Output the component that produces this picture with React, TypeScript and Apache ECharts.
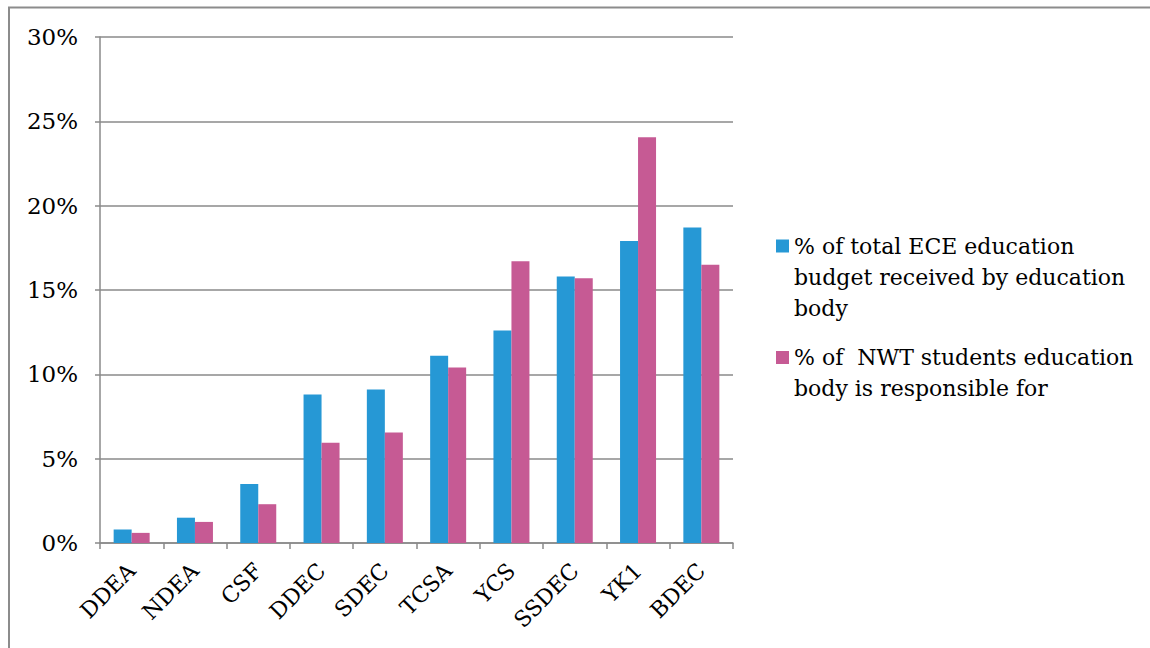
import React, { useEffect, useRef } from "react";
import * as echarts from "echarts";

// Education bodies along the x axis
const categories = ["DDEA", "NDEA", "CSF", "DDEC", "SDEC", "TCSA", "YCS", "SSDEC", "YK1", "BDEC"];

// % of total ECE education budget received by each body
const budgetShare = [0.8, 1.5, 3.5, 8.8, 9.1, 11.1, 12.6, 15.8, 17.9, 18.7];

// % of NWT students each body is responsible for
const studentShare = [0.6, 1.25, 2.3, 5.95, 6.55, 10.4, 16.7, 15.7, 24.05, 16.5];

const seriesNames = [
  "% of total ECE education\nbudget received by education\nbody",
  "% of  NWT students education\nbody is responsible for",
];

const colors = ["#2698D5", "#C65A94"];

const FONT = "'DejaVu Serif', 'Liberation Serif', serif";
const LINE_H = 31;

export default function App() {
  const ref = useRef<HTMLDivElement>(null);

  useEffect(() => {
    if (!ref.current) return;
    const chart = echarts.init(ref.current, null, { renderer: "svg" });

    // Each legend entry keeps its swatch level with the first text line:
    // blank leading lines push the vertically centred text block down.
    const legendFor = (name: string, iconCenterY: number) => {
      const lines = name.split("\n").length;
      const total = 2 * lines - 1;
      return {
        show: true,
        orient: "vertical",
        left: 776,
        top: iconCenterY - (total * LINE_H) / 2,
        padding: 0,
        itemWidth: 13,
        itemHeight: 13,
        icon: "rect",
        data: [name],
        formatter: (n: string) => "\n".repeat(lines - 1) + n,
        textStyle: {
          fontFamily: FONT,
          fontSize: 22,
          color: "#000",
          lineHeight: LINE_H,
        },
      };
    };

    chart.setOption({
      animation: false,
      backgroundColor: "#fff",
      color: colors,
      graphic: [
        {
          type: "rect",
          shape: { x: 9, y: 7.5, width: 1300, height: 800 },
          style: { fill: "none", stroke: "#8c8c8c", lineWidth: 2 },
          silent: true,
        },
      ],
      grid: { left: 100, top: 37, right: 417, bottom: 105, containLabel: false },
      legend: [legendFor(seriesNames[0], 246), legendFor(seriesNames[1], 357.5)],
      xAxis: {
        type: "category",
        data: categories,
        axisLine: { show: true, lineStyle: { color: "#8a8a8a", width: 1.5 } },
        axisTick: { show: true, length: 6, alignWithLabel: false, lineStyle: { color: "#8a8a8a", width: 1.5 } },
        axisLabel: {
          rotate: 45,
          margin: 24,
          interval: 0,
          padding: [10, 0, 0, 0],
          fontFamily: FONT,
          fontSize: 22,
          color: "#000",
        },
      },
      yAxis: {
        type: "value",
        min: 0,
        max: 30,
        interval: 5,
        axisLine: { show: true, lineStyle: { color: "#8a8a8a", width: 1.5 } },
        axisTick: { show: true, length: 5, lineStyle: { color: "#8a8a8a", width: 1.5 } },
        splitLine: { show: true, lineStyle: { color: "#8a8a8a", width: 1.5 } },
        axisLabel: {
          formatter: "{value}%",
          margin: 22,
          fontFamily: FONT,
          fontSize: 23,
          color: "#000",
        },
      },
      series: [
        {
          name: seriesNames[0],
          type: "bar",
          data: budgetShare,
          barWidth: 18,
          barGap: "0%",
          itemStyle: { color: colors[0] },
        },
        {
          name: seriesNames[1],
          type: "bar",
          data: studentShare,
          barWidth: 18,
          barGap: "0%",
          itemStyle: { color: colors[1] },
        },
      ],
    });

    return () => chart.dispose();
  }, []);

  return (
    <div
      ref={ref}
      style={{ position: "fixed", left: 0, top: 0, width: 1150, height: 648 }}
    />
  );
}
